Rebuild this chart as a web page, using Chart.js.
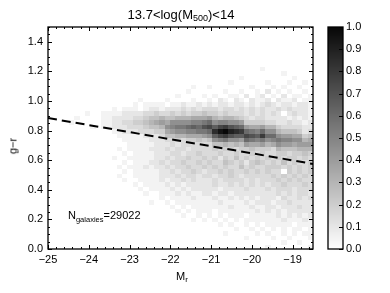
<!DOCTYPE html>
<html><head><meta charset="utf-8">
<script src="https://cdn.jsdelivr.net/npm/chart.js@4.4.1/dist/chart.umd.min.js"></script>
<style>
html,body{margin:0;padding:0;background:#fff;}
#wrap{position:relative;width:390px;height:293px;font-family:"Liberation Sans",Arial,sans-serif;color:#000;}
canvas{position:absolute;left:0;top:0;}
.t{position:absolute;white-space:nowrap;line-height:1;}
</style></head><body>
<div id="wrap">
<canvas id="c" width="390" height="293"></canvas>
<div class="t" style="left:0;width:362px;text-align:center;top:8.3px;font-size:13px;">13.7&lt;log(M<span style="font-size:9px;position:relative;top:1.5px">500</span>)&lt;14</div>
<div class="t" style="left:0;width:364px;text-align:center;top:270.7px;font-size:11px;">M<span style="font-size:8px;position:relative;top:2px">r</span></div>
<div class="t" style="left:12.5px;top:146px;font-size:11px;transform:translate(-50%,-50%) rotate(-90deg);">g−r</div>
<div class="t" style="left:68px;top:210px;font-size:11px;">N<span style="font-size:7.5px;position:relative;top:2.5px">galaxies</span>=29022</div>
</div>
<script>
// ---- data ----
const xTickValues = [-25, -24, -23, -22, -21, -20, -19];
const yTickValues = [0.0, 0.2, 0.4, 0.6, 0.8, 1.0, 1.2, 1.4];
const cbTickValues = [0.0, 0.1, 0.2, 0.3, 0.4, 0.5, 0.6, 0.7, 0.8, 0.9, 1.0];
const xRange = [-25, -18.5];
const yRange = [0, 1.5];
const cutLineX = [-25, -18.5];
const cutLineY = [0.885, 0.575];
// normalised density, level char index / 20 ; first string = top row (g-r = 1.5)
const levelChars = "0123456789ABCDEFGHIJK";
const densityRows = [
"0000000000 0000000000 0000000000 0000000000 0000000000",
"0000000000 0000000000 0000000000 0000000000 0000000000",
"0000000000 0000000000 0000000000 0000000000 0000000000",
"0000000000 0000000000 0000000000 0000000000 0000000000",
"0000000000 0000000000 0000000000 0000000000 0000000000",
"0000000000 0000000000 0000000000 0000000000 0000000000",
"0000000000 0000000000 0000000000 0000000000 0000000000",
"0000000000 0000000000 0000000000 0000000000 0000000000",
"0000000000 0000000000 0000000000 0000000000 0000000000",
"0000000000 0000000000 0000000000 0000000000 1000000000",
"0000000000 0000000000 0000000000 0000000000 0000100000",
"0000000000 0000000000 0000000000 0000001000 0000001000",
"0000000000 0000000000 0000000000 0000100000 0100010010",
"0000000000 0000000000 0000000100 1000000010 0010100100",
"0000000000 0000000000 0000001000 0001001001 0201010010",
"0000000000 0000000000 0000100001 0100110201 2010201101",
"0000000000 0000000100 0010000100 1021021021 1202112011",
"0000000000 0000001011 1101121121 2122122121 2321221221",
"0000000000 0010111012 2122232323 3323323232 3223232221",
"0000000100 1111222233 4334343445 4434333232 3232023221",
"0000010000 1122223345 5655666777 8656654323 3222212121",
"0000100000 1122334456 7879999AAB C9AA998444 4332232212",
"0000000010 1122233345 569ABBCDCE FDFGEDC877 8664333322",
"0000000000 0011222333 447899AABB CHJKIHGCBA C996555423",
"0000000000 0001111122 2355667778 9DFGEDDFED GCC9887745",
"0000000000 0000111112 2233434454 59AB998CBA B9ABAA9967",
"0000000000 0000011111 2223233333 3556565877 8679887888",
"0000000000 0001011112 2232332333 3434434454 4436555666",
"0000000000 0000101111 2223323343 3343343343 4334434454",
"0000000000 0010011111 2232334334 3424353434 3434344343",
"0000000000 0000101112 2323343343 4335434245 4343534334",
"0000000000 0001011121 2232334334 3434335343 3444343434",
"0000000000 0000101111 1223233432 3343433434 3433043434",
"0000000000 0001001111 1222323323 3233432333 3343434343",
"0000000000 0000100111 1212232322 2323333232 3334343433",
"0000000000 0000001011 1121212222 2322323232 3233433343",
"0000000000 0000000101 1112121222 2212222322 2323332333",
"0000000000 0000000010 0111212112 2122122222 2223232332",
"0000000000 0000000000 0101111211 1211212121 2221322323",
"0000000000 0000000001 0010111111 1121111212 2212232222",
"0000000000 0000000000 0001010111 1111211121 1221222322",
"0000000000 0000000000 0000101011 1011111112 1212122222",
"0000000000 0000000000 0000010010 1010111011 1112121212",
"0000000000 0000000000 0000000101 0101010111 1111211121",
"0000000000 0000000000 0000000000 0010100101 0111110111",
"0000000000 0000000000 0000000000 0000010010 1010101101",
"0000000000 0000000000 0000000000 0001000001 0100101011",
"0000000000 0000000000 0000000000 0000000100 0010010001",
"0000000000 0000000000 0000000000 0000000000 0000100100",
"0000000000 0000000000 0000000000 0000000000 0100000001"
];

// ---- helpers ----
const grid = densityRows.map(r => r.replace(/ /g, ''));
const grayStops = [[0,255],[0.5,132],[1,8]];
function gray(v){
  v = Math.max(0, Math.min(1, v));
  for (let i = 1; i < grayStops.length; i++){
    const [a, ca] = grayStops[i-1], [b, cb] = grayStops[i];
    if (v <= b){ const g = Math.round(ca + (cb - ca) * (v - a) / (b - a)); return `rgb(${g},${g},${g})`; }
  }
  return 'rgb(0,0,0)';
}
const FONT = {family: '"Liberation Sans", Arial, sans-serif', size: 11};
const fmtMinus = v => (v < 0 ? '\u2212' + Math.abs(v) : String(v));
const noPad = s => { s.paddingTop = 0; s.paddingBottom = 0; s.paddingLeft = 0; s.paddingRight = 0; };

const heatmap = {
  id: 'heatmap',
  beforeDatasetsDraw(chart){
    const {ctx, chartArea: a, scales: {x, y}} = chart;
    const ny = grid.length, nx = grid[0].length;
    const dx = (xRange[1] - xRange[0]) / nx, dy = (yRange[1] - yRange[0]) / ny;
    ctx.save();
    ctx.beginPath(); ctx.rect(a.left, a.top, a.right - a.left, a.bottom - a.top); ctx.clip();
    grid.forEach((row, i) => {
      const r = ny - 1 - i;
      const y0 = yRange[0] + r * dy;
      const py0 = Math.round(y.getPixelForValue(y0 + dy)), py1 = Math.round(y.getPixelForValue(y0));
      for (let c = 0; c < nx; c++){
        const v = levelChars.indexOf(row[c]) / 20;
        if (v <= 0) continue;
        const px0 = Math.round(x.getPixelForValue(xRange[0] + c * dx));
        const px1 = Math.round(x.getPixelForValue(xRange[0] + (c + 1) * dx));
        ctx.fillStyle = gray(v);
        ctx.fillRect(px0, py0, px1 - px0, py1 - py0);
      }
    });
    ctx.restore();
  }
};

const axesDeco = {
  id: 'axesDeco',
  afterDraw(chart){
    const {ctx, chartArea: a, scales: {x, y, cb}} = chart;
    ctx.save();
    ctx.strokeStyle = '#000';
    ctx.lineWidth = 1;
    const line = (x0, y0, x1, y1) => { ctx.beginPath(); ctx.moveTo(x0, y0); ctx.lineTo(x1, y1); ctx.stroke(); };
    for (let v = xRange[0]; v <= xRange[1] + 1e-9; v += 0.2){
      const vv = Math.round(v * 10) / 10;
      const major = xTickValues.some(t => Math.abs(t - vv) < 1e-6);
      const p = Math.round(x.getPixelForValue(vv)) + 0.5, L = major ? 4 : 2;
      line(p, a.bottom, p, a.bottom - L); line(p, a.top, p, a.top + L);
    }
    for (let v = yRange[0]; v <= yRange[1] + 1e-9; v += 0.05){
      const vv = Math.round(v * 100) / 100;
      const major = yTickValues.some(t => Math.abs(t - vv) < 1e-6);
      const p = Math.round(y.getPixelForValue(vv)) + 0.5, L = major ? 4 : 2;
      line(a.left, p, a.left + L, p); line(a.right, p, a.right - L, p);
    }
    ctx.lineWidth = 1.3;
    ctx.strokeRect(a.left, a.top, a.right - a.left, a.bottom - a.top);
    const cx0 = a.right + 15, cw = 15;
    const N = 220;
    for (let k = 0; k < N; k++){
      const v0 = k / N, v1 = (k + 1) / N;
      const p0 = cb.getPixelForValue(v1), p1 = cb.getPixelForValue(v0);
      ctx.fillStyle = gray((v0 + v1) / 2);
      ctx.fillRect(cx0, Math.floor(p0), cw, Math.ceil(p1) - Math.floor(p0));
    }
    ctx.lineWidth = 1;
    cbTickValues.forEach(v => {
      const p = Math.round(cb.getPixelForValue(v)) + 0.5;
      line(cx0 + cw, p, cx0 + cw - 4, p);
    });
    ctx.lineWidth = 1.3;
    ctx.strokeRect(cx0, a.top, cw, a.bottom - a.top);
    ctx.restore();
  }
};

new Chart(document.getElementById('c'), {
  type: 'scatter',
  data: {
    datasets: [{
      data: cutLineX.map((xv, i) => ({x: xv, y: cutLineY[i]})),
      showLine: true, borderColor: '#000', borderWidth: 2, borderDash: [9, 5],
      pointRadius: 0, fill: false, xAxisID: 'x', yAxisID: 'y'
    }]
  },
  options: {
    responsive: false, animation: false, events: [],
    layout: {padding: {left: 0, right: 0, top: 27, bottom: 24}},
    plugins: {legend: {display: false}, tooltip: {enabled: false}, title: {display: false}},
    scales: {
      x: {
        type: 'linear', position: 'bottom', min: xRange[0], max: xRange[1],
        afterBuildTicks: s => { s.ticks = xTickValues.map(v => ({value: v})); },
        afterFit: s => { s.height = 20; noPad(s); },
        grid: {display: false, drawTicks: false}, border: {display: false},
        ticks: {callback: v => fmtMinus(v), font: FONT, color: '#000', padding: 4, maxRotation: 0, autoSkip: false}
      },
      y: {
        type: 'linear', position: 'left', min: yRange[0], max: yRange[1],
        afterBuildTicks: s => { s.ticks = yTickValues.map(v => ({value: v})); },
        afterFit: s => { s.width = 48; noPad(s); },
        grid: {display: false, drawTicks: false}, border: {display: false},
        ticks: {callback: v => Number(v).toFixed(1), font: FONT, color: '#000', padding: 5, autoSkip: false}
      },
      cb: {
        type: 'linear', position: 'right', min: 0, max: 1,
        afterBuildTicks: s => { s.ticks = cbTickValues.map(v => ({value: v})); },
        afterFit: s => { s.width = 77; noPad(s); },
        grid: {display: false, drawTicks: false}, border: {display: false},
        ticks: {callback: v => Number(v).toFixed(1), font: FONT, color: '#000', padding: 33, autoSkip: false}
      }
    }
  },
  plugins: [heatmap, axesDeco]
});
</script>
</body></html>
